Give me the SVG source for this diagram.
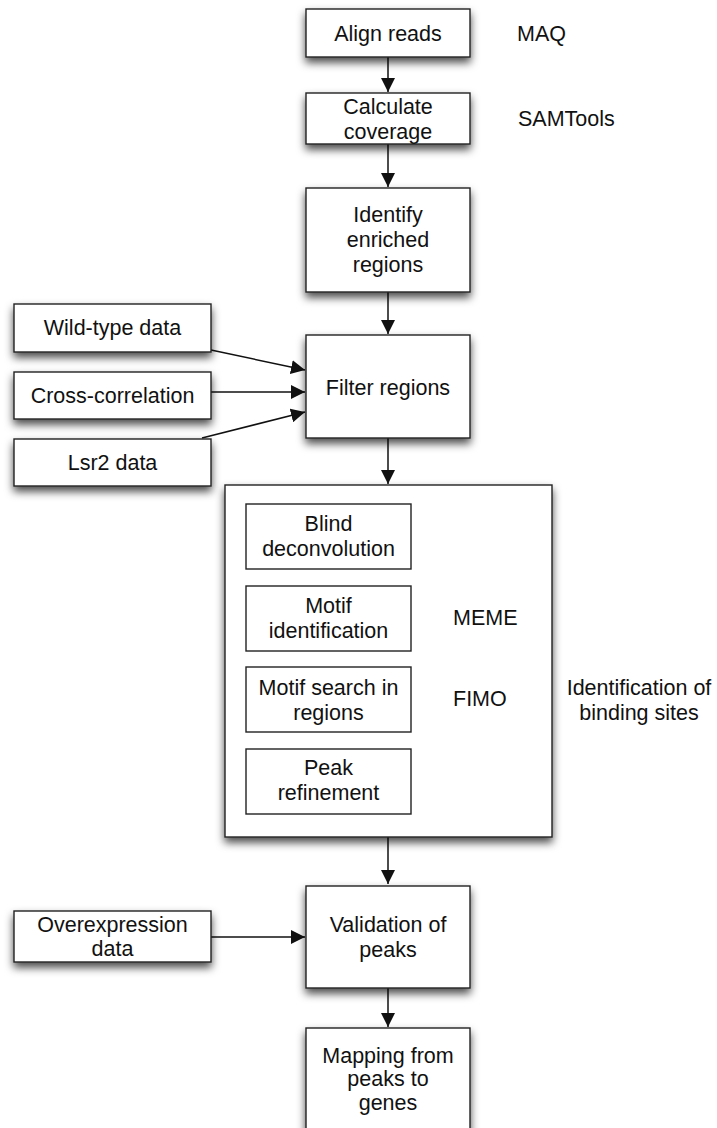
<svg xmlns="http://www.w3.org/2000/svg" width="717" height="1128" viewBox="0 0 717 1128">
  <defs>
    <filter id="shadow" x="-20%" y="-20%" width="140%" height="160%">
      <feDropShadow dx="0" dy="5" stdDeviation="4" flood-color="#000" flood-opacity="0.7"/>
    </filter>
    <marker id="arrow" markerUnits="userSpaceOnUse" markerWidth="14" markerHeight="14" viewBox="0 0 14 14" refX="14" refY="7" orient="auto">
      <path d="M0,0 L14,7 L0,14 Z" fill="#111"/>
    </marker>
    <style>
      .box { fill: #fff; stroke: #222; stroke-width: 1.4; filter: url(#shadow); }
      .inner { fill: #fff; stroke: #222; stroke-width: 1.4; }
      .lbl { font-family: "Liberation Sans", Arial, sans-serif; font-size: 21.5px; fill: #111; text-anchor: middle; }
      .tool { font-family: "Liberation Sans", Arial, sans-serif; font-size: 21.5px; fill: #111; }
      .edge { stroke: #111; stroke-width: 1.5; fill: none; marker-end: url(#arrow); }
    </style>
  </defs>
  <rect width="717" height="1128" fill="#fff"/>

  <!-- connectors -->
  <g id="connectors">
    <line class="edge" x1="388" y1="57" x2="388" y2="92"/>
    <line class="edge" x1="388" y1="144" x2="388" y2="187"/>
    <line class="edge" x1="388" y1="292" x2="388" y2="334"/>
    <line class="edge" x1="211" y1="350" x2="305" y2="370"/>
    <line class="edge" x1="211" y1="392" x2="305" y2="392"/>
    <line class="edge" x1="202" y1="438" x2="305" y2="412"/>
    <line class="edge" x1="388" y1="438" x2="388" y2="484"/>
    <line class="edge" x1="388" y1="837" x2="388" y2="884"/>
    <line class="edge" x1="211" y1="937" x2="305" y2="937"/>
    <line class="edge" x1="388" y1="988" x2="388" y2="1027"/>
  </g>

  <g id="align-reads">
    <rect class="box" x="306" y="9" width="164" height="48"/>
    <text class="lbl" x="388" y="41">Align reads</text>
  </g>
  <text class="tool" x="517" y="41">MAQ</text>

  <g id="calculate-coverage">
    <rect class="box" x="306" y="93" width="164" height="51"/>
    <text class="lbl" x="388" y="114">Calculate</text>
    <text class="lbl" x="388" y="139">coverage</text>
  </g>
  <text class="tool" x="518" y="126">SAMTools</text>

  <g id="identify-enriched">
    <rect class="box" x="306" y="188" width="164" height="104"/>
    <text class="lbl" x="388" y="222">Identify</text>
    <text class="lbl" x="388" y="247">enriched</text>
    <text class="lbl" x="388" y="272">regions</text>
  </g>

  <g id="wild-type">
    <rect class="box" x="14" y="304" width="197" height="48"/>
    <text class="lbl" x="112.5" y="335">Wild-type data</text>
  </g>
  <g id="cross-correlation">
    <rect class="box" x="14" y="372" width="197" height="47"/>
    <text class="lbl" x="112.5" y="403">Cross-correlation</text>
  </g>
  <g id="lsr2">
    <rect class="box" x="14" y="439" width="197" height="47"/>
    <text class="lbl" x="112.5" y="470">Lsr2 data</text>
  </g>

  <g id="filter-regions">
    <rect class="box" x="306" y="335" width="164" height="103"/>
    <text class="lbl" x="388" y="395">Filter regions</text>
  </g>

  <g id="binding-sites">
    <rect class="box" x="225" y="485" width="327" height="352"/>
    <g id="blind-deconvolution">
      <rect class="inner" x="246" y="504" width="165" height="65"/>
      <text class="lbl" x="328.5" y="531">Blind</text>
      <text class="lbl" x="328.5" y="556">deconvolution</text>
    </g>
    <g id="motif-identification">
      <rect class="inner" x="246" y="586" width="165" height="65"/>
      <text class="lbl" x="328.5" y="613">Motif</text>
      <text class="lbl" x="328.5" y="638">identification</text>
    </g>
    <g id="motif-search">
      <rect class="inner" x="246" y="667" width="165" height="65"/>
      <text class="lbl" x="328.5" y="695">Motif search in</text>
      <text class="lbl" x="328.5" y="720">regions</text>
    </g>
    <g id="peak-refinement">
      <rect class="inner" x="246" y="749" width="165" height="65"/>
      <text class="lbl" x="328.5" y="775">Peak</text>
      <text class="lbl" x="328.5" y="800">refinement</text>
    </g>
    <text class="tool" x="453" y="625">MEME</text>
    <text class="tool" x="453" y="706">FIMO</text>
  </g>
  <text class="lbl" x="639" y="695">Identification of</text>
  <text class="lbl" x="639" y="720">binding sites</text>

  <g id="overexpression">
    <rect class="box" x="14" y="911" width="197" height="51"/>
    <text class="lbl" x="112.5" y="932">Overexpression</text>
    <text class="lbl" x="112.5" y="956">data</text>
  </g>

  <g id="validation">
    <rect class="box" x="306" y="886" width="164" height="102"/>
    <text class="lbl" x="388" y="932">Validation of</text>
    <text class="lbl" x="388" y="957">peaks</text>
  </g>

  <g id="mapping">
    <rect class="box" x="306" y="1028" width="164" height="110"/>
    <text class="lbl" x="388" y="1063">Mapping from</text>
    <text class="lbl" x="388" y="1086">peaks to</text>
    <text class="lbl" x="388" y="1110">genes</text>
  </g>
</svg>
